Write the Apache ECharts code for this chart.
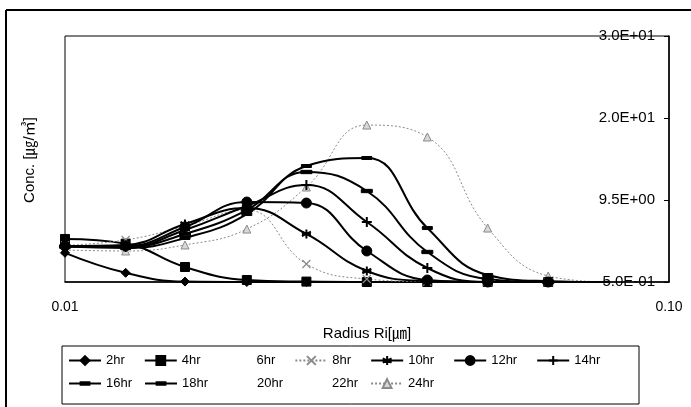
<!DOCTYPE html>
<html>
<head>
<meta charset="utf-8">
<script src="https://cdn.jsdelivr.net/npm/echarts@6/dist/echarts.min.js"></script>
<style>html,body{margin:0;padding:0;background:#fff}#c{width:691px;height:407px}</style>
</head>
<body>
<div id="c"></div>
<script>
// Radius Ri [um] (log axis)
var radius = [0.01, 0.0126, 0.0158, 0.02, 0.0251, 0.0316, 0.0398, 0.0501, 0.0631, 0.0794];
// Concentrations [ug/m3]
var hr2  = [4.0, 1.6, 0.55, 0.5, 0.5, 0.5, 0.5, 0.5, 0.5, 0.5];
var hr4  = [5.66, 5.1, 2.3, 0.74, 0.55, 0.5, 0.5, 0.5, 0.5, 0.5];
var hr6  = [];
var hr8  = [4.9, 5.54, 7.2, 9.13, 2.66, 0.86, 0.55, 0.5, 0.5, 0.5];
var hr10 = [4.82, 4.94, 7.45, 9.37, 6.26, 1.82, 0.62, 0.5, 0.5, 0.5];
var hr12 = [4.8, 4.82, 7.1, 10.09, 9.97, 4.22, 0.74, 0.5, 0.5, 0.5];
var hr14 = [4.8, 4.7, 6.73, 9.61, 12.13, 7.69, 2.18, 0.5, 0.5, 0.5];
var hr16 = [4.75, 4.7, 6.26, 9.13, 13.69, 11.41, 4.1, 0.86, 0.5, 0.5];
var hr18 = [4.75, 4.58, 5.78, 8.65, 14.41, 15.37, 6.97, 1.34, 0.6, 0.5];
var hr20 = [];
var hr22 = [];
var hr24 = [4.34, 4.22, 4.94, 6.85, 11.89, 19.32, 17.89, 6.97, 1.22, 0.5];

var legendRow1 = ['2hr', '4hr', '6hr', '8hr', '10hr', '12hr', '14hr'];
var legendRow2 = ['16hr', '18hr', '20hr', '22hr', '24hr'];

var yTickValues = [0.5, 10.3333, 20.1667, 30];
var yTickLabels = ['5.0E-01', '9.5E+00', '2.0E+01', '3.0E+01'];
var xTickLabels = ['0.01', '0.10'];

var FONT = '"Liberation Sans", Arial, "Noto Sans CJK KR", sans-serif';

function pairs(arr) {
  return arr.map(function (v, i) {
    var p = { value: [radius[i], v] };
    if (i === radius.length - 1) p.symbol = 'none';
    return p;
  });
}

var sym = {
  x: 'path://M0,0L10,10M10,0L0,10',
  star: 'path://M5,0L5,10M0,2.5L10,7.5M0,7.5L10,2.5M0,5L10,5',
  plus: 'path://M5,0L5,10M0,5L10,5',
  bar: 'path://M0,0L0.01,0M0,3.5L10,3.5L10,6.5L0,6.5ZM0,10L0.01,10'
};

function mk(name, data, opt) {
  return {
    name: name, type: 'line', smooth: 0.45, data: pairs(data),
    symbol: opt.symbol, symbolSize: opt.size, symbolKeepAspect: true,
    lineStyle: { color: opt.color, width: opt.width, type: opt.dash || 'solid' },
    itemStyle: { color: opt.fill || opt.color, borderColor: opt.color, borderWidth: opt.bw || 1 },
    z: opt.z || 2
  };
}
var K = '#000', G = '#8a8a8a', T = 'rgba(0,0,0,0)';
var series = [
  mk('2hr', hr2, { symbol: 'diamond', size: 9, color: K, width: 2 }),
  mk('4hr', hr4, { symbol: 'rect', size: 9, color: K, width: 2 }),
  mk('6hr', hr6, { symbol: 'none', size: 1, color: T, width: 0 }),
  mk('8hr', hr8, { symbol: sym.x, size: 8, color: G, width: 1, dash: [2, 2], bw: 1.2 }),
  mk('10hr', hr10, { symbol: sym.star, size: 9, color: K, width: 2, bw: 2 }),
  mk('12hr', hr12, { symbol: 'circle', size: 10, color: K, width: 2 }),
  mk('14hr', hr14, { symbol: sym.plus, size: 10, color: K, width: 2, bw: 2 }),
  mk('16hr', hr16, { symbol: sym.bar, size: 11, color: K, width: 2 }),
  mk('18hr', hr18, { symbol: sym.bar, size: 10, color: K, width: 2 }),
  mk('20hr', hr20, { symbol: 'none', size: 1, color: T, width: 0 }),
  mk('22hr', hr22, { symbol: 'none', size: 1, color: T, width: 0 }),
  mk('24hr', hr24, { symbol: 'triangle', size: 8, color: G, width: 1, dash: [2, 2], fill: '#d8d8d8', z: 1 })
];

function legendRow(names, top, gap) {
  return {
    left: 62, top: top, orient: 'horizontal', width: 600,
    itemWidth: 32, itemHeight: 11, itemGap: gap,
    padding: [0, 0, 0, 6],
    textStyle: { color: '#000', fontSize: 13, fontFamily: FONT },
    selectedMode: false,
    data: names
  };
}

var chart = echarts.init(document.getElementById('c'), null, { renderer: 'canvas' });
chart.setOption({
  animation: false,
  backgroundColor: '#fff',
  textStyle: { fontFamily: FONT },
  grid: { left: 65, right: 22, top: 36, bottom: 125, show: true, borderColor: '#000', borderWidth: 1 },
  xAxis: {
    type: 'log', logBase: 10, min: 0.01, max: 0.1,
    name: 'Radius Ri[㎛]', nameLocation: 'middle', nameGap: 44,
    nameTextStyle: { fontSize: 15, color: '#000', fontFamily: FONT },
    axisLine: { lineStyle: { color: '#000', width: 1.5 } },
    axisTick: { show: false },
    splitLine: { show: false },
    axisLabel: {
      color: '#000', fontSize: 14, margin: 18, fontFamily: FONT,
      formatter: function (v) { return v < 0.05 ? xTickLabels[0] : xTickLabels[1]; }
    }
  },
  yAxis: {
    type: 'value', position: 'right', min: 0.5, max: 30,
    axisLine: { show: true, lineStyle: { color: '#000', width: 1.5 } },
    axisTick: { show: true, inside: true, length: 5, customValues: yTickValues, lineStyle: { color: '#000' } },
    splitLine: { show: false },
    axisLabel: {
      inside: true, margin: 14, color: '#000', fontSize: 15, fontFamily: FONT,
      customValues: yTickValues,
      formatter: function (v) {
        var best = 0;
        for (var i = 0; i < yTickValues.length; i++) {
          if (Math.abs(yTickValues[i] - v) < Math.abs(yTickValues[best] - v)) best = i;
        }
        return yTickLabels[best];
      }
    }
  },
  legend: [legendRow(legendRow1, 354, 19), legendRow(legendRow2, 377, 12)],
  graphic: [
    { type: 'line', shape: { x1: 6, y1: 10, x2: 691, y2: 10 }, style: { stroke: '#000', lineWidth: 2 } },
    { type: 'line', shape: { x1: 6, y1: 10, x2: 6, y2: 407 }, style: { stroke: '#000', lineWidth: 2 } },
    { type: 'rect', shape: { x: 62, y: 346, width: 577, height: 58 }, style: { fill: 'none', stroke: '#000', lineWidth: 1 } },
    { type: 'text', x: 30, y: 160, rotation: Math.PI / 2,
      style: { text: 'Conc. [㎍/㎥]', fill: '#000', font: '15px ' + FONT, textAlign: 'center', textVerticalAlign: 'middle' } }
  ],
  series: series
});
</script>
</body>
</html>
